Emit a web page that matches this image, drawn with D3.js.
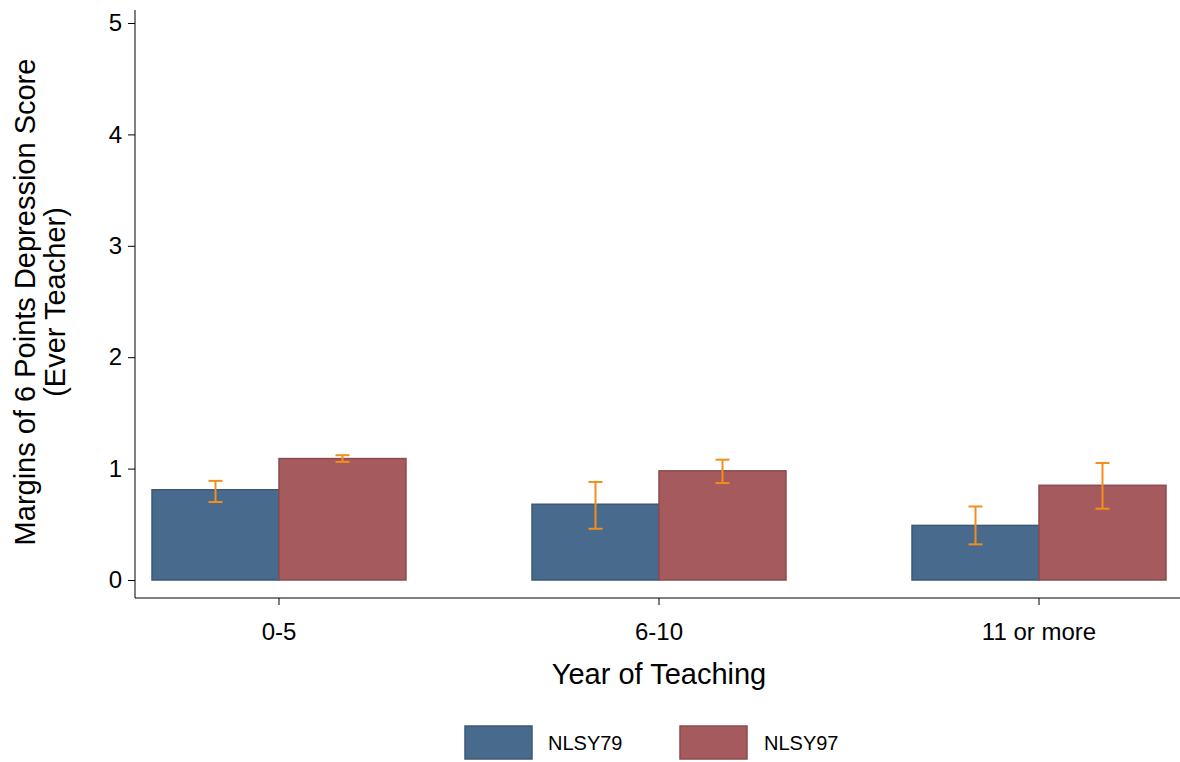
<!DOCTYPE html><html><head><meta charset="utf-8"><script src="https://cdn.jsdelivr.net/npm/d3@7"></script>
<style>body{margin:0;background:#fff}text{font-family:"Liberation Sans",Arial,sans-serif}</style></head><body><svg id="c" width="1180" height="762"></svg><script>
const categories=["0-5","6-10","11 or more"];
const series=["NLSY79","NLSY97"];
const values79=[0.81,0.68,0.49];
const values97=[1.09,0.98,0.85];
const lo79=[0.70,0.46,0.32], hi79=[0.89,0.88,0.66];
const lo97=[1.06,0.87,0.64], hi97=[1.12,1.08,1.05];
const yTicks=[0,1,2,3,4,5];
const colors=["#486a8c","#a55b5d"];
const svg=d3.select("#c");
const y=d3.scaleLinear().domain([0,5]).range([580,23]);
const x=d3.scaleBand().domain(categories).range([152,1166]).paddingInner(0.3316).paddingOuter(0);
const xs=d3.scaleBand().domain(series).range([0,x.bandwidth()]);
const yAx=svg.append("g").attr("transform","translate(135,0)").call(d3.axisLeft(y).tickValues(yTicks).tickFormat(d3.format("d")).tickSize(7).tickSizeOuter(0));
yAx.select(".domain").attr("d","M0,10V598");
yAx.selectAll("text").attr("font-size",24).attr("dx",-3);
svg.append("line").attr("x1",135).attr("x2",1180).attr("y1",598).attr("y2",598).attr("stroke","#000");
categories.forEach(c=>svg.append("line").attr("x1",x(c)+x.bandwidth()/2).attr("x2",x(c)+x.bandwidth()/2).attr("y1",598).attr("y2",605).attr("stroke","#000"));
categories.forEach(c=>svg.append("text").attr("x",x(c)+x.bandwidth()/2).attr("y",640).attr("text-anchor","middle").attr("font-size",24).text(c));
const data=[[values79,lo79,hi79],[values97,lo97,hi97]];
data.forEach(([v,lo,hi],s)=>categories.forEach((c,i)=>{
 const bx=x(c)+xs(series[s]);
 svg.append("rect").attr("x",bx).attr("width",xs.bandwidth()).attr("y",y(v[i])).attr("height",y(0)-y(v[i])).attr("fill",colors[s]).attr("stroke",d3.color(colors[s]).darker(0.5)).attr("stroke-width",1.5);
 const cx=bx+xs.bandwidth()/2,o="#f28e1c";
 svg.append("line").attr("x1",cx).attr("x2",cx).attr("y1",y(lo[i])).attr("y2",y(hi[i])).attr("stroke",o).attr("stroke-width",2);
 [lo[i],hi[i]].forEach(e=>svg.append("line").attr("x1",cx-7).attr("x2",cx+7).attr("y1",y(e)).attr("y2",y(e)).attr("stroke",o).attr("stroke-width",2));
}));
svg.append("text").attr("x",659).attr("y",684).attr("text-anchor","middle").attr("font-size",29).text("Year of Teaching");
svg.append("text").attr("transform","translate(35,302) rotate(-90)").attr("text-anchor","middle").attr("font-size",29).text("Margins of 6 Points Depression Score");
svg.append("text").attr("transform","translate(65,302) rotate(-90)").attr("text-anchor","middle").attr("font-size",29).text("(Ever Teacher)");
[[465,548],[680,764]].forEach(([sx,tx],s)=>{
 svg.append("rect").attr("x",sx).attr("y",726).attr("width",67).attr("height",33).attr("fill",colors[s]).attr("stroke",d3.color(colors[s]).darker(0.5)).attr("stroke-width",1.5);
 svg.append("text").attr("x",tx).attr("y",750).attr("font-size",20).text(series[s]);
});
</script></body></html>
